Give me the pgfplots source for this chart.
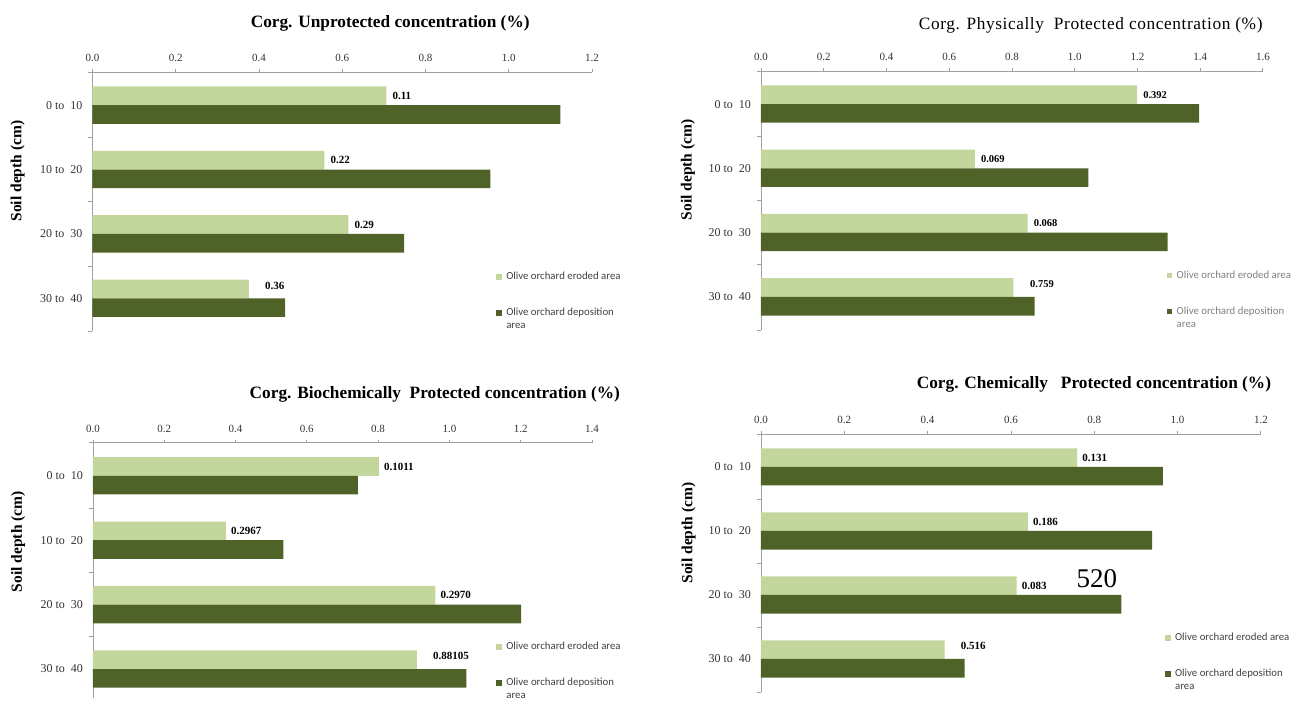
\documentclass[border=0pt]{standalone}
\usepackage{fontspec}
\setmainfont{Liberation Serif}
\newfontfamily\legfont{Carlito}
\usepackage{pgfplots}
\usepackage{pgfplotstable}
\pgfplotsset{compat=1.18}

\definecolor{eroded}{HTML}{C3D69B}
\definecolor{depos}{HTML}{4F6228}
\definecolor{axisgray}{HTML}{A0A0A0}
\definecolor{legtext}{HTML}{404040}
\definecolor{ticktext}{HTML}{333333}

\newcommand\fsz[1]{\fontsize{#1}{#1}\selectfont}

% ---- Corg. unprotected ----
\pgfplotstableread{
y v     lab  dx dy
3 0.706 0.11 6  9.3
2 0.557 0.22 6  9.3
1 0.615 0.29 6  9.3
0 0.376 0.36 16 12.3
}\unprotEro
\pgfplotstableread{
y v
3 1.124
2 0.956
1 0.749
0 0.463
}\unprotDep

% ---- Corg. physically protected ----
\pgfplotstableread{
y v     lab   dx   dy
3 1.199 0.392 6    9.3
2 0.682 0.069 6    9.3
1 0.850 0.068 6    9.3
0 0.805 0.759 16.5 12.7
}\physEro
\pgfplotstableread{
y v
3 1.397
2 1.044
1 1.296
0 0.872
}\physDep

% ---- Corg. biochemically protected ----
\pgfplotstableread{
y v     lab     dx dy
3 0.802 0.1011  5  9.3
2 0.373 0.2967  5  9.3
1 0.961 0.2970  5  9.3
0 0.909 0.88105 16 13.3
}\biochEro
\pgfplotstableread{
y v
3 0.743
2 0.534
1 1.201
0 1.048
}\biochDep

% ---- Corg. chemically protected ----
\pgfplotstableread{
y v     lab   dx dy
3 0.759 0.131 5  9.3
2 0.641 0.186 5  9.3
1 0.614 0.083 5  9.3
0 0.441 0.516 16 13.3
}\chemEro
\pgfplotstableread{
y v
3 0.965
2 0.939
1 0.865
0 0.489
}\chemDep

\pgfplotsset{
  soilpanel/.style={
    scale only axis,
    anchor=north west,
    clip=false,
    xmin=0, ymin=-0.515, ymax=3.515,
    axis x line*=top, axis y line*=left,
    axis line style={axisgray, line width=0.8pt},
    tick align=outside,
    major tick length=3pt, minor tick length=4pt,
    major x tick style={axisgray, line width=0.8pt},
    major y tick style={draw=none},
    minor y tick style={axisgray, line width=0.8pt},
    ytick={0,1,2,3},
    yticklabels={30 to\ \ 40, 20 to\ \ 30, 10 to\ \ 20, 0 to\ \ 10},
    minor ytick={-0.515,0.5,1.5,2.5,3.515},
    xticklabel style={font=\fsz{11}, text=ticktext, yshift=3.8pt,
      /pgf/number format/fixed, /pgf/number format/fixed zerofill,
      /pgf/number format/precision=1, /pgf/number format/assume math mode=true},
    yticklabel style={font=\fsz{12}, text=ticktext, xshift=-3.5pt},
    ylabel={Soil depth (cm)},
    ylabel style={font=\bfseries\fsz{15.5}, anchor=center},
    title style={anchor=center, yshift=-8pt},
    legend cell align=left,
    legend style={at={(axis description cs:0.808,0.228)}, anchor=north west,
      draw=none, fill=none, inner sep=0pt, row sep=27pt, column sep=4.4pt,
      font=\legfont\fontsize{10.8}{12.7}\selectfont, text=legtext,
      nodes={inner sep=0pt, align=left}},
  },
  erobar/.style={xbar, bar width=0.29, bar shift=0.145, fill=eroded, draw=none,
    point meta=explicit symbolic,
    visualization depends on={\thisrow{dx} \as \dx},
    visualization depends on={\thisrow{dy} \as \dy},
    nodes near coords={\pgfplotspointmeta},
    every node near coord/.append style={anchor=west, inner sep=0pt,
      font=\bfseries\fsz{11}, text=black, xshift=\dx pt, yshift=\dy pt},
    legend image code/.code={\fill[eroded] (0pt,-2.8pt) rectangle (5.6pt,2.8pt);}},
  depbar/.style={xbar, bar width=0.29, bar shift=-0.145, fill=depos, draw=none,
    legend image code/.code={\fill[depos] (0pt,3.55pt) rectangle (5.6pt,9.15pt);}},
}

\begin{document}
\begin{tikzpicture}[x=1pt,y=1pt]
% page frame
\path (0,0) rectangle (1291,698);

% top left
\begin{axis}[soilpanel, at={(92.5pt,626pt)}, width=499.5pt, height=259.5pt,
  xmax=1.2, xtick={0,0.2,0.4,0.6,0.8,1.0,1.2},
  ylabel style={at={(axis description cs:-0.150,0.618)}},
  title={Corg. Unprotected concentration (\%)},
  title style={font=\bfseries\fsz{17.3}, at={(axis description cs:0.596,1.1965)}}]
\addplot[erobar] table[x=v, y=y, meta=lab] {\unprotEro};
\addlegendentry{Olive orchard eroded area}
\addplot[depbar] table[x=v, y=y] {\unprotDep};
\addlegendentry{Olive orchard deposition\\area}
\end{axis}

% top right
\begin{axis}[soilpanel, at={(761pt,627pt)}, width=502pt, height=259pt,
  xmax=1.6, xtick={0,0.2,0.4,0.6,0.8,1.0,1.2,1.4,1.6},
  ylabel style={at={(axis description cs:-0.1454,0.618)}},
  legend style={text=gray},
  title={Corg. Physically\ \ Protected concentration (\%)},
  title style={font=\fsz{17.3}\addfontfeature{LetterSpace=3.5}, at={(axis description cs:0.657,1.185)}}]
\addplot[erobar, every node near coord/.append style={font=\bfseries\fsz{10.5}}] table[x=v, y=y, meta=lab] {\physEro};
\addlegendentry{Olive orchard eroded area}
\addplot[depbar] table[x=v, y=y] {\physDep};
\addlegendentry{Olive orchard deposition\\area}
\end{axis}

% bottom left (its y axis runs on past the lower edge)
\begin{axis}[soilpanel, at={(93pt,255.3pt)}, width=499pt, height=255.3pt,
  ymin=-0.449, minor ytick={0.5,1.5,2.5,3.515},
  xmax=1.4, xtick={0,0.2,0.4,0.6,0.8,1.0,1.2,1.4},
  ylabel style={at={(axis description cs:-0.150,0.612)}},
  legend style={at={(axis description cs:0.808,0.218)}},
  title={Corg. Biochemically\ \ Protected concentration (\%)},
  title style={font=\bfseries\fsz{17.3}, at={(axis description cs:0.685,1.1986)}}]
\addplot[erobar] table[x=v, y=y, meta=lab] {\biochEro};
\addlegendentry{Olive orchard eroded area}
\addplot[depbar] table[x=v, y=y] {\biochDep};
\addlegendentry{Olive orchard deposition\\area}
\end{axis}

% bottom right
\begin{axis}[soilpanel, at={(761pt,264pt)}, width=500pt, height=258pt,
  xmax=1.2, xtick={0,0.2,0.4,0.6,0.8,1.0,1.2},
  ylabel style={at={(axis description cs:-0.1446,0.616)}},
  title={Corg. Chemically\ \ \ Protected concentration (\%)},
  title style={font=\bfseries\fsz{17.3}, at={(axis description cs:0.666,1.198)}}]
\addplot[erobar] table[x=v, y=y, meta=lab] {\chemEro};
\addlegendentry{Olive orchard eroded area}
\addplot[depbar] table[x=v, y=y] {\chemDep};
\addlegendentry{Olive orchard deposition\\area}
\end{axis}

\node[font=\fsz{27}] at (1097,119) {520};
\end{tikzpicture}
\end{document}
